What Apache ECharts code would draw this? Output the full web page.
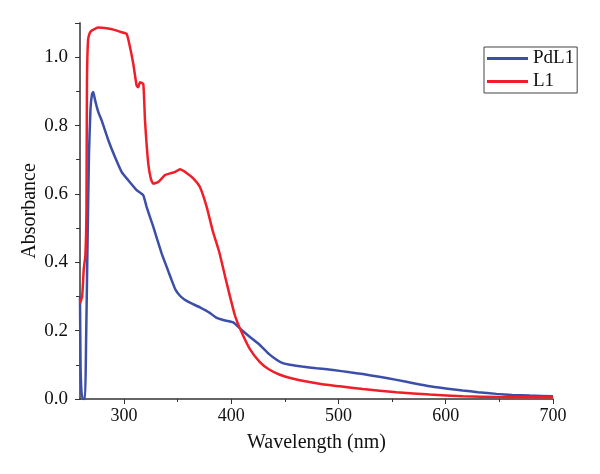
<!DOCTYPE html>
<html>
<head>
<meta charset="utf-8">
<script src="https://cdn.jsdelivr.net/npm/echarts@6/dist/echarts.min.js"></script>
<style>
  html, body { margin: 0; padding: 0; background: #fff; }
  #chart { width: 600px; height: 474px; }
</style>
</head>
<body>
<div id="chart"></div>
<script>
// PdL1 (blue)
const pdl1Wl = [259, 259.5, 260.4, 261.8, 263.7, 264.6, 266, 267.4, 268.8, 270.2, 271.4, 273, 276, 279.2, 285.4, 291.6, 297.9, 304, 311.8, 318, 321.1, 327.3, 335.1, 340, 344.4, 348, 352.2, 356, 361.5, 370.8, 380, 386, 392.5, 401.8, 409.7, 418, 426.7, 435, 442.3, 448, 454.7, 466, 479.5, 495, 510.6, 522.7, 538, 554.1, 570, 585.1, 600, 615.8, 630, 647.2, 662, 678.3, 700]
const pdl1Abs = [0.3, 0.1, 0.02, 0.0, 0.0, 0.15, 0.45, 0.72, 0.85, 0.892, 0.898, 0.875, 0.84, 0.815, 0.757, 0.708, 0.664, 0.64, 0.611, 0.596, 0.562, 0.504, 0.426, 0.385, 0.348, 0.32, 0.302, 0.292, 0.282, 0.268, 0.252, 0.238, 0.231, 0.224, 0.202, 0.18, 0.158, 0.132, 0.115, 0.105, 0.1, 0.095, 0.09, 0.085, 0.078, 0.073, 0.065, 0.056, 0.046, 0.037, 0.031, 0.025, 0.02, 0.015, 0.012, 0.01, 0.008]

// L1 (red)
const l1Wl = [259, 261, 262.5, 264, 265, 265.5, 266.5, 268, 270, 273, 275.8, 285.1, 291, 297.9, 302.5, 305.6, 308.7, 311.8, 313.3, 314.9, 318, 319.6, 322.6, 325, 327.3, 332, 338.2, 343, 347.5, 352.2, 358, 364.3, 370.8, 377.1, 382.9, 388.8, 395.7, 403.4, 409.7, 417.4, 426.7, 435, 445.3, 457, 470.2, 485, 501.2, 522.7, 554.1, 585.1, 615.8, 650, 700]
const l1Abs = [0.28, 0.3, 0.38, 0.42, 0.55, 0.93, 1.05, 1.07, 1.078, 1.083, 1.087, 1.084, 1.08, 1.073, 1.068, 1.03, 0.98, 0.917, 0.912, 0.927, 0.922, 0.815, 0.69, 0.645, 0.63, 0.635, 0.655, 0.66, 0.664, 0.672, 0.662, 0.646, 0.62, 0.562, 0.49, 0.43, 0.34, 0.245, 0.195, 0.146, 0.108, 0.087, 0.071, 0.06, 0.051, 0.043, 0.037, 0.029, 0.02, 0.013, 0.008, 0.006, 0.005]

const xMajorTicks = [300, 400, 500, 600, 700]
const xMinorTicks = [350, 450, 550, 650]

const FONT = 'Liberation Serif'
const chart = echarts.init(document.getElementById('chart'))

const zip = (xs, ys) => xs.map((x, i) => [x, ys[i]])

const option = {
  animation: false,
  backgroundColor: '#fff',
  grid: { left: 80, right: 47, top: 23, bottom: 75 },
  legend: {
    orient: 'vertical',
    left: 484,
    top: 47,
    padding: [2, 3, 2, 3],
    itemGap: 4,
    itemWidth: 41,
    itemHeight: 3,
    icon: 'rect',
    borderColor: '#444',
    borderWidth: 1,
    textStyle: { fontFamily: FONT, fontSize: 19, color: '#111' },
    data: ['PdL1', 'L1']
  },
  xAxis: [{
    type: 'value',
    min: 259,
    max: 700,
    name: 'Wavelength (nm)',
    nameLocation: 'middle',
    nameGap: 34,
    nameTextStyle: { fontFamily: FONT, fontSize: 20, color: '#111' },
    axisLine: { onZero: false, lineStyle: { color: '#333', width: 1.5 } },
    axisTick: { customValues: xMajorTicks, length: 5, lineStyle: { color: '#333' } },
    axisLabel: { customValues: xMajorTicks, fontFamily: FONT, fontSize: 18, color: '#111', margin: 8 },
    splitLine: { show: false }
  }, {
    type: 'value',
    min: 259,
    max: 700,
    position: 'bottom',
    axisLine: { show: false },
    axisTick: { customValues: xMinorTicks, length: 3, lineStyle: { color: '#333' } },
    axisLabel: { show: false },
    splitLine: { show: false }
  }],
  yAxis: {
    type: 'value',
    min: 0,
    max: 1.1,
    interval: 0.2,
    name: 'Absorbance',
    nameLocation: 'middle',
    nameGap: 40,
    nameMoveOverlap: false,
    nameTextStyle: { fontFamily: FONT, fontSize: 20, color: '#111' },
    axisLine: { show: true, lineStyle: { color: '#666', width: 2 } },
    axisTick: { show: true, length: 5, lineStyle: { color: '#333' } },
    minorTick: { show: true, splitNumber: 2, length: 4, lineStyle: { color: '#333' } },
    axisLabel: {
      fontFamily: FONT, fontSize: 19, color: '#111', margin: 12,
      formatter: v => v > 1.05 ? '' : v.toFixed(1)
    },
    splitLine: { show: false }
  },
  series: [
    {
      name: 'PdL1',
      type: 'line',
      showSymbol: false,
      smooth: 0.15,
      color: '#3c4fa8',
      lineStyle: { width: 2.5, color: '#3c4fa8' },
      data: zip(pdl1Wl, pdl1Abs)
    },
    {
      name: 'L1',
      type: 'line',
      showSymbol: false,
      smooth: 0.15,
      color: '#f01e28',
      lineStyle: { width: 2.5, color: '#f01e28' },
      data: zip(l1Wl, l1Abs)
    }
  ]
}

chart.setOption(option)
</script>
</body>
</html>
